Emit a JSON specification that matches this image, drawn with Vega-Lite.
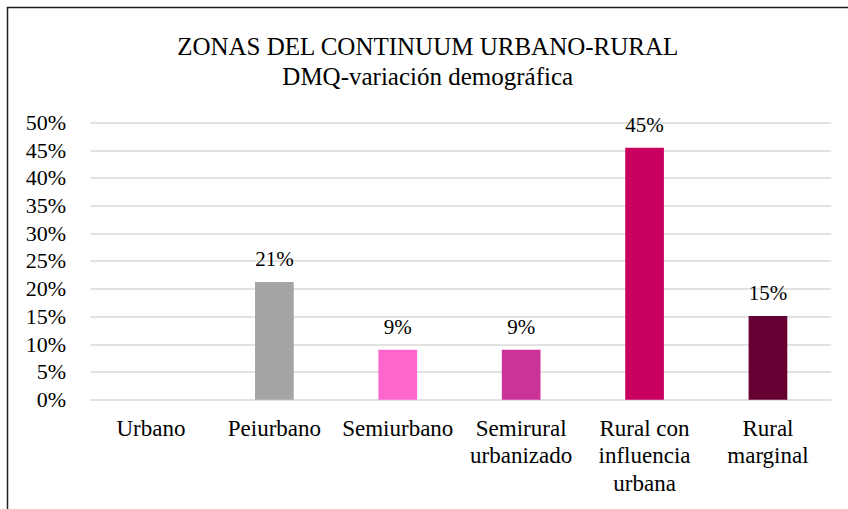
{
  "$schema": "https://vega.github.io/schema/vega-lite/v6.json",
  "width": 840.5,
  "height": 501.5,
  "autosize": {"type": "none"},
  "padding": {"left": 7.5, "top": 7.5, "right": 0, "bottom": 0},
  "background": "white",
  "config": {
    "font": "'Liberation Serif', 'Times New Roman', 'DejaVu Serif', serif",
    "view": {"stroke": "#1f1f1f", "strokeWidth": 1.5, "strokeDash": [841, 1341, 502, 20]}
  },
  "title": {
    "text": ["ZONAS DEL CONTINUUM URBANO-RURAL", "DMQ-variación demográfica"],
    "font": "'Liberation Serif', 'Times New Roman', 'DejaVu Serif', serif",
    "fontSize": 25,
    "fontWeight": "normal",
    "color": "#000000",
    "anchor": "middle",
    "frame": "group",
    "lineHeight": 30,
    "baseline": "alphabetic",
    "offset": -102.5
  },
  "data": {
    "values": [
      {"zona": "Urbano", "valor": null},
      {"zona": "Peiurbano", "valor": 0.212},
      {"zona": "Semiurbano", "valor": 0.09},
      {"zona": "Semirural urbanizado", "valor": 0.09},
      {"zona": "Rural con influencia urbana", "valor": 0.454},
      {"zona": "Rural marginal", "valor": 0.151}
    ]
  },
  "encoding": {
    "x": {
      "field": "zona",
      "type": "nominal",
      "sort": null,
      "scale": {
        "domain": ["Urbano", "Peiurbano", "Semiurbano", "Semirural urbanizado", "Rural con influencia urbana", "Rural marginal"],
        "paddingInner": 0.6864,
        "paddingOuter": 0.749,
        "align": 0.6716
      },
      "axis": {
        "orient": "bottom",
        "offset": -109.3,
        "title": null,
        "domain": false,
        "ticks": false,
        "tickSize": 0,
        "grid": false,
        "labelAngle": 0,
        "labelPadding": 18,
        "labelFont": "'Liberation Serif', 'Times New Roman', 'DejaVu Serif', serif",
        "labelFontSize": 23,
        "labelLineHeight": 27.3,
        "labelColor": "#000000",
        "labelOverlap": false,
        "labelLimit": 300,
        "labelExpr": "datum.value == 'Semirural urbanizado' ? ['Semirural', 'urbanizado'] : datum.value == 'Rural con influencia urbana' ? ['Rural con', 'influencia', 'urbana'] : datum.value == 'Rural marginal' ? ['Rural', 'marginal'] : datum.value"
      }
    },
    "y": {
      "field": "valor",
      "type": "quantitative",
      "scale": {"domain": [-0.197, 0.7069], "nice": false, "zero": false},
      "axis": {
        "orient": "left",
        "offset": -60,
        "title": null,
        "values": [0, 0.05, 0.1, 0.15, 0.2, 0.25, 0.3, 0.35, 0.4, 0.45, 0.5],
        "format": ".0%",
        "domain": false,
        "ticks": false,
        "tickSize": 0,
        "labelPadding": 2,
        "labelFont": "'Liberation Serif', 'Times New Roman', 'DejaVu Serif', serif",
        "labelFontSize": 22,
        "labelColor": "#000000",
        "labelOverlap": false,
        "grid": true,
        "gridColor": "#D9D9D9",
        "gridWidth": 1.5,
        "gridDash": [0, 82.5, 740.7, 200]
      }
    }
  },
  "layer": [
    {
      "mark": {"type": "bar"},
      "encoding": {
        "y2": {"datum": 0},
        "color": {
          "field": "zona",
          "type": "nominal",
          "scale": {
            "domain": ["Urbano", "Peiurbano", "Semiurbano", "Semirural urbanizado", "Rural con influencia urbana", "Rural marginal"],
            "range": ["#4472C4", "#A5A5A5", "#FF66CC", "#CC3399", "#C9005F", "#660033"]
          },
          "legend": null
        }
      }
    },
    {
      "mark": {"type": "text", "baseline": "alphabetic", "dy": -16, "font": "'Liberation Serif', 'Times New Roman', 'DejaVu Serif', serif", "fontSize": 21, "color": "#000000"},
      "encoding": {
        "text": {"field": "valor", "type": "quantitative", "format": ".0%"}
      }
    }
  ]
}
